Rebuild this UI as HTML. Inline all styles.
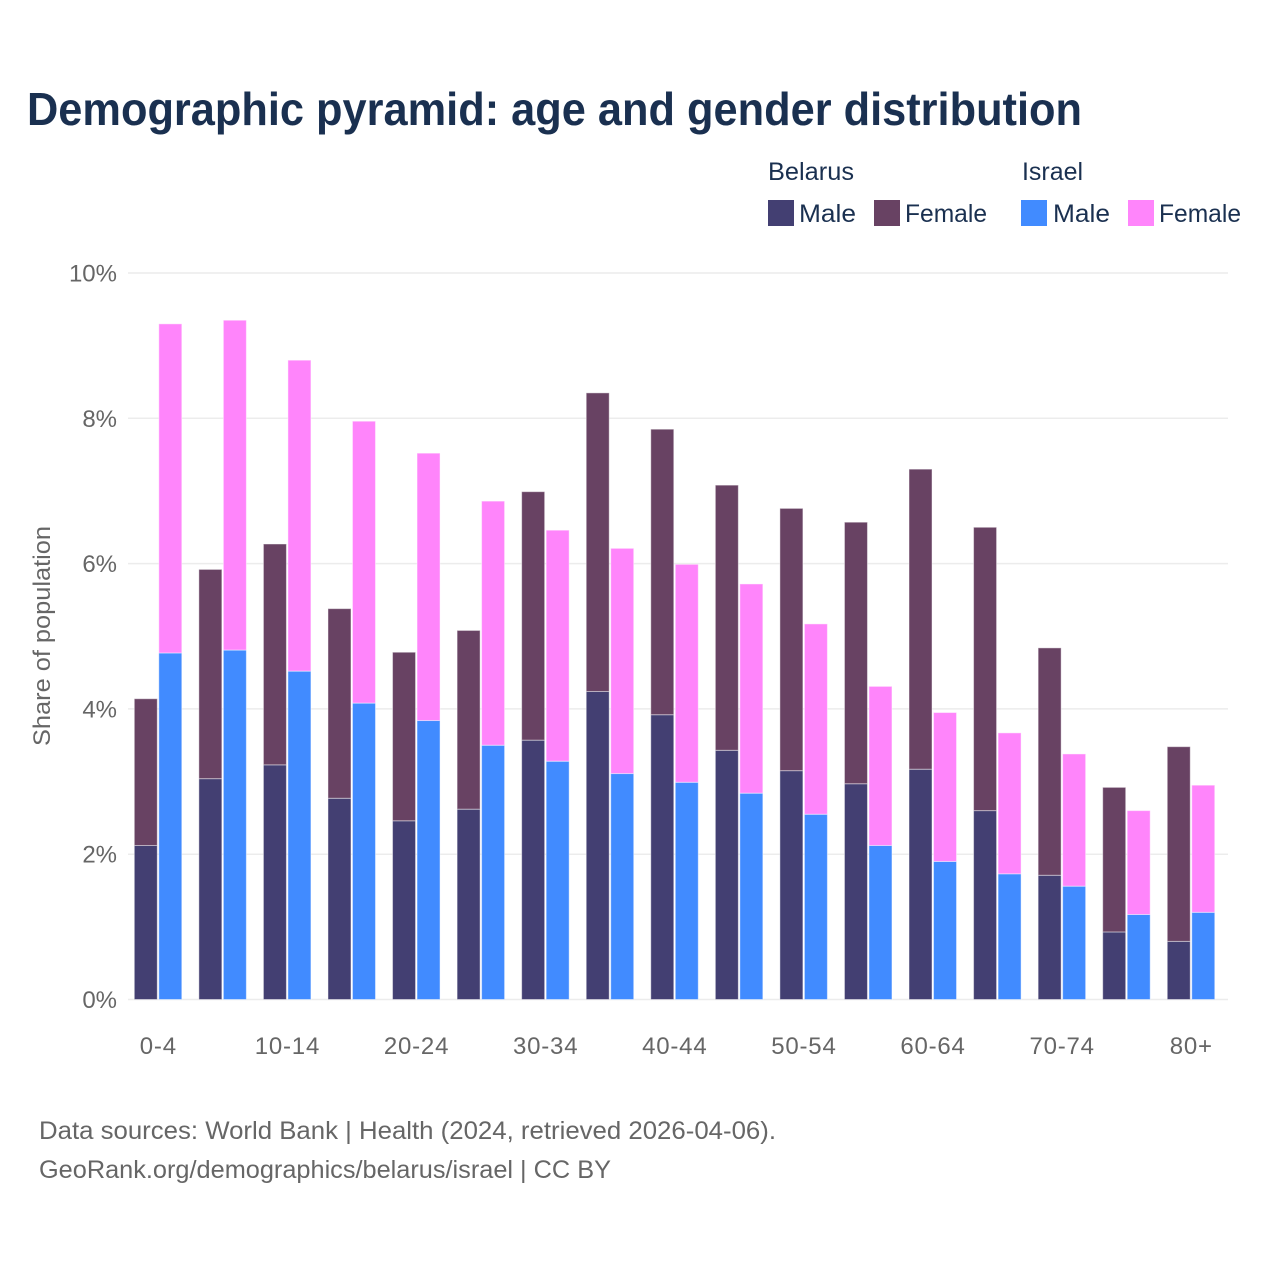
<!DOCTYPE html>
<html lang="en">
<head>
<meta charset="utf-8">
<title>Demographic pyramid: age and gender distribution</title>
<style>
html,body{margin:0;padding:0;background:#fff;}
svg{display:block;}
text{font-family:"Liberation Sans",sans-serif;}
</style>
</head>
<body>
<svg id="chart" width="1280" height="1280" viewBox="0 0 1280 1280" xmlns="http://www.w3.org/2000/svg">
  <rect x="0" y="0" width="1280" height="1280" fill="#ffffff"/>
  <text x="27" y="125" font-size="46" font-weight="700" fill="#1a3050" textLength="1055" lengthAdjust="spacingAndGlyphs">Demographic pyramid: age and gender distribution</text>

  <g font-size="25" fill="#1a3050">
    <text x="768" y="180" textLength="86" lengthAdjust="spacingAndGlyphs">Belarus</text>
    <text x="1022" y="180" textLength="61" lengthAdjust="spacingAndGlyphs">Israel</text>
    <rect x="768" y="200" width="26" height="26" fill="#433f72"/>
    <text x="799" y="222" textLength="57" lengthAdjust="spacingAndGlyphs">Male</text>
    <rect x="874" y="200" width="26" height="26" fill="#684263"/>
    <text x="905" y="222" textLength="82" lengthAdjust="spacingAndGlyphs">Female</text>
    <rect x="1021" y="200" width="26" height="26" fill="#418bff"/>
    <text x="1053" y="222" textLength="57" lengthAdjust="spacingAndGlyphs">Male</text>
    <rect x="1128" y="200" width="26" height="26" fill="#ff85fb"/>
    <text x="1159" y="222" textLength="82" lengthAdjust="spacingAndGlyphs">Female</text>
  </g>

  <g id="grid"></g>
  <g id="bars"></g>
  <g id="yticks"></g>
  <g id="xticks"></g>

  <text transform="translate(50,636) rotate(-90)" text-anchor="middle" font-size="24" fill="#666666" textLength="220" lengthAdjust="spacingAndGlyphs">Share of population</text>

  <text x="39" y="1139" font-size="25" fill="#666666" textLength="737" lengthAdjust="spacingAndGlyphs">Data sources: World Bank | Health (2024, retrieved 2026-04-06).</text>
  <text x="39" y="1178" font-size="25" fill="#666666" textLength="572" lengthAdjust="spacingAndGlyphs">GeoRank.org/demographics/belarus/israel | CC BY</text>
</svg>
<script>
var ageGroups = ["0-4","5-9","10-14","15-19","20-24","25-29","30-34","35-39","40-44","45-49","50-54","55-59","60-64","65-69","70-74","75-79","80+"];
var belarusMale = [2.12,3.04,3.23,2.77,2.46,2.62,3.57,4.24,3.92,3.43,3.15,2.97,3.17,2.60,1.71,0.93,0.80];
var belarusFemale = [2.02,2.88,3.04,2.61,2.32,2.46,3.42,4.11,3.93,3.65,3.61,3.60,4.13,3.90,3.13,1.99,2.68];
var israelMale = [4.77,4.81,4.52,4.08,3.84,3.50,3.28,3.11,2.99,2.84,2.55,2.12,1.90,1.73,1.56,1.17,1.20];
var israelFemale = [4.53,4.54,4.28,3.88,3.68,3.36,3.18,3.10,3.00,2.88,2.62,2.19,2.05,1.94,1.82,1.43,1.75];
var yTickValues = [0,2,4,6,8,10];

var NS = "http://www.w3.org/2000/svg";
function yScale(v){ return 999.5 - v * 72.65; }
function xScale(i){ return 158.3 + i * 64.56; }

function makeRect(parent, x, top, w, h, fill){
  var r = document.createElementNS(NS, "rect");
  r.setAttribute("x", x);
  r.setAttribute("y", top);
  r.setAttribute("width", w);
  r.setAttribute("height", h);
  r.setAttribute("fill", fill);
  r.setAttribute("stroke", "rgba(255,255,255,0.45)");
  r.setAttribute("stroke-width", "1");
  parent.appendChild(r);
  return r;
}

var gridG = document.getElementById("grid");
var yG = document.getElementById("yticks");
var xG = document.getElementById("xticks");
var barsG = document.getElementById("bars");

yTickValues.forEach(function(v){
  var l = document.createElementNS(NS, "line");
  l.setAttribute("x1", 128);
  l.setAttribute("x2", 1228);
  l.setAttribute("y1", yScale(v));
  l.setAttribute("y2", yScale(v));
  l.setAttribute("stroke", "#ececec");
  l.setAttribute("stroke-width", "1.5");
  
  
  gridG.appendChild(l);

  var t = document.createElementNS(NS, "text");
  t.setAttribute("x", 117);
  t.setAttribute("y", yScale(v) + 8.5);
  t.setAttribute("text-anchor", "end");
  t.setAttribute("font-size", "24");
  t.setAttribute("fill", "#666666");
  t.textContent = v + "%";
  
  
  yG.appendChild(t);
});

ageGroups.forEach(function(label, i){
  var cx = xScale(i);
  var leftX = cx - 24;
  var rightX = cx + 0.5;
  var barW = 23;

  var bmTop = yScale(belarusMale[i]);
  var bm = makeRect(barsG, leftX, bmTop, barW, yScale(0) - bmTop, "#433f72");
  
  

  var bfTop = yScale(belarusMale[i] + belarusFemale[i]);
  var bf = makeRect(barsG, leftX, bfTop, barW, bmTop - bfTop, "#684263");
  
  

  var imTop = yScale(israelMale[i]);
  var im = makeRect(barsG, rightX, imTop, barW, yScale(0) - imTop, "#418bff");
  
  

  var ifTop = yScale(israelMale[i] + israelFemale[i]);
  var fe = makeRect(barsG, rightX, ifTop, barW, imTop - ifTop, "#ff85fb");
  
  

  if (i % 2 === 0) {
    var t = document.createElementNS(NS, "text");
    t.setAttribute("x", cx);
    t.setAttribute("y", 1054);
    t.setAttribute("text-anchor", "middle");
    t.setAttribute("font-size", "24");
    t.setAttribute("letter-spacing", "0.8");
    t.setAttribute("fill", "#666666");
    t.textContent = label;
    
    
    xG.appendChild(t);
  }
});
</script>
</body>
</html>
